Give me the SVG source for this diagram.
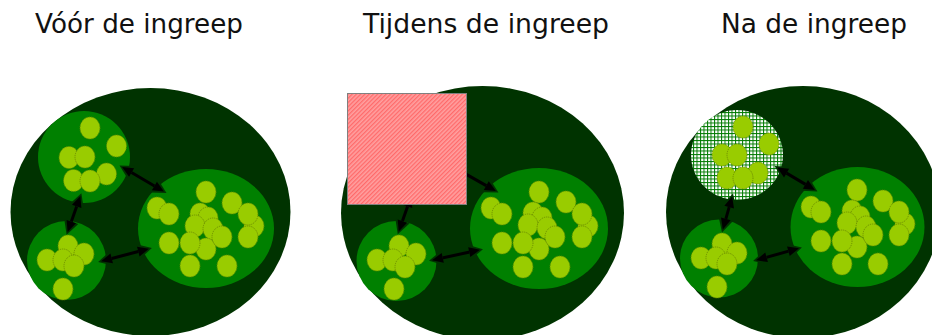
<svg xmlns="http://www.w3.org/2000/svg" width="932" height="335" viewBox="0 0 932 335">
<style>
.title{font-family:"DejaVu Sans","Liberation Sans",sans-serif;font-size:26px;fill:#111}
.bg{fill:#003300}
.cell{fill:#008000}
.dot{fill:#99cc00;stroke:#6b8a00;stroke-width:1;stroke-dasharray:1 1}
.arr{stroke:#000;stroke-width:3;fill:none;marker-start:url(#head);marker-end:url(#head)}
</style>
<defs>
<marker id="head" markerUnits="userSpaceOnUse" viewBox="-3 -9 20 18" markerWidth="20" markerHeight="18" refX="3" refY="0" orient="auto-start-reverse" overflow="visible">
<path d="M0,-7.5 L14,0 L0,7.5 z" fill="#003300"/>
<path d="M0,-5 L11,0 L0,5 z" fill="#000"/>
</marker>
<pattern id="hatch" width="3" height="3" patternUnits="userSpaceOnUse" patternTransform="rotate(45)">
<rect width="3" height="3" fill="#ffa0a0"/>
<rect width="1.3" height="3" fill="#ff6a6a"/>
</pattern>
<pattern id="check" width="3.5" height="3.5" patternUnits="userSpaceOnUse">
<rect width="3.5" height="3.5" fill="#ffffff"/>
<rect width="1" height="3.5" fill="#007a00"/>
<rect width="3.5" height="1" fill="#007a00"/>
</pattern>
</defs>
<rect width="932" height="335" fill="#ffffff"/>

<g id="titles">
<text class="title" x="35" y="33" textLength="208" lengthAdjust="spacingAndGlyphs">Vóór de ingreep</text>
<text class="title" x="363" y="33" textLength="246" lengthAdjust="spacingAndGlyphs">Tijdens de ingreep</text>
<text class="title" x="721" y="33" textLength="186" lengthAdjust="spacingAndGlyphs">Na de ingreep</text>
</g>

<!-- Panel 1 -->
<g id="p1-body"><ellipse class="bg" cx="150.5" cy="212" rx="140" ry="124"/></g>
<g id="p1-topleft">
<circle class="cell" cx="84" cy="157" r="46"/>
<ellipse class="dot" cx="90" cy="128" rx="10" ry="11"/>
<ellipse class="dot" cx="116.5" cy="146" rx="10" ry="11"/>
<ellipse class="dot" cx="69" cy="157.5" rx="10" ry="11"/>
<ellipse class="dot" cx="85" cy="157" rx="10" ry="11"/>
<ellipse class="dot" cx="106.5" cy="174" rx="10" ry="11"/>
<ellipse class="dot" cx="73.5" cy="180.5" rx="10" ry="11"/>
<ellipse class="dot" cx="90" cy="181" rx="10" ry="11"/>
</g>
<g id="p1-bottomleft">
<circle class="cell" cx="66.5" cy="260.5" r="39.5"/>
<ellipse class="dot" cx="68" cy="246" rx="10" ry="11"/>
<ellipse class="dot" cx="47" cy="260" rx="10" ry="11"/>
<ellipse class="dot" cx="63" cy="260" rx="10" ry="11"/>
<ellipse class="dot" cx="84" cy="254" rx="10" ry="11"/>
<ellipse class="dot" cx="74" cy="266" rx="10" ry="11"/>
<ellipse class="dot" cx="63" cy="289" rx="10" ry="11"/>
</g>
<g id="p1-right">
<ellipse class="cell" cx="206" cy="228.5" rx="68" ry="59.5"/>
<ellipse class="dot" cx="206" cy="192" rx="10" ry="11"/>
<ellipse class="dot" cx="157" cy="208" rx="10" ry="11"/>
<ellipse class="dot" cx="169" cy="214" rx="10" ry="11"/>
<ellipse class="dot" cx="232" cy="203" rx="10" ry="11"/>
<ellipse class="dot" cx="254" cy="226" rx="10" ry="11"/>
<ellipse class="dot" cx="248" cy="214" rx="10" ry="11"/>
<ellipse class="dot" cx="200" cy="214" rx="10" ry="11"/>
<ellipse class="dot" cx="208" cy="218" rx="10" ry="11"/>
<ellipse class="dot" cx="195" cy="226" rx="10" ry="11"/>
<ellipse class="dot" cx="213" cy="229" rx="10" ry="11"/>
<ellipse class="dot" cx="248" cy="237" rx="10" ry="11"/>
<ellipse class="dot" cx="206" cy="249" rx="10" ry="11"/>
<ellipse class="dot" cx="222" cy="237" rx="10" ry="11"/>
<ellipse class="dot" cx="169" cy="243" rx="10" ry="11"/>
<ellipse class="dot" cx="190" cy="243" rx="10" ry="11"/>
<ellipse class="dot" cx="190" cy="266" rx="10" ry="11"/>
<ellipse class="dot" cx="227" cy="266" rx="10" ry="11"/>
</g>

<!-- Panel 2 -->
<g id="p2-body"><ellipse class="bg" cx="482.5" cy="213" rx="141.5" ry="127"/></g>
<g id="p2-bottomleft">
<circle class="cell" cx="396.5" cy="261" r="40"/>
<ellipse class="dot" cx="399" cy="246" rx="10" ry="11"/>
<ellipse class="dot" cx="377" cy="260" rx="10" ry="11"/>
<ellipse class="dot" cx="393" cy="260" rx="10" ry="11"/>
<ellipse class="dot" cx="416" cy="254" rx="10" ry="11"/>
<ellipse class="dot" cx="405" cy="267" rx="10" ry="11"/>
<ellipse class="dot" cx="394" cy="289" rx="10" ry="11"/>
</g>
<g id="p2-right">
<ellipse class="cell" cx="539" cy="228.5" rx="69" ry="60.5"/>
<ellipse class="dot" cx="539" cy="192" rx="10" ry="11"/>
<ellipse class="dot" cx="491" cy="208" rx="10" ry="11"/>
<ellipse class="dot" cx="502" cy="214" rx="10" ry="11"/>
<ellipse class="dot" cx="566" cy="202" rx="10" ry="11"/>
<ellipse class="dot" cx="588" cy="226" rx="10" ry="11"/>
<ellipse class="dot" cx="582" cy="214" rx="10" ry="11"/>
<ellipse class="dot" cx="533" cy="213" rx="10" ry="11"/>
<ellipse class="dot" cx="542" cy="218" rx="10" ry="11"/>
<ellipse class="dot" cx="528" cy="225" rx="10" ry="11"/>
<ellipse class="dot" cx="547" cy="228" rx="10" ry="11"/>
<ellipse class="dot" cx="582" cy="237" rx="10" ry="11"/>
<ellipse class="dot" cx="539" cy="249" rx="10" ry="11"/>
<ellipse class="dot" cx="555" cy="237" rx="10" ry="11"/>
<ellipse class="dot" cx="502" cy="243" rx="10" ry="11"/>
<ellipse class="dot" cx="523" cy="243" rx="10" ry="11"/>
<ellipse class="dot" cx="523" cy="267" rx="10" ry="11"/>
<ellipse class="dot" cx="560" cy="267" rx="10" ry="11"/>
</g>

<!-- Panel 3 -->
<g id="p3-body"><ellipse class="bg" cx="803" cy="212" rx="137" ry="126"/></g>
<g id="p3-topleft">
<ellipse cx="737" cy="155" rx="46" ry="45" fill="url(#check)"/>
<ellipse class="dot" cx="743" cy="127" rx="10" ry="11"/>
<ellipse class="dot" cx="769" cy="144" rx="10" ry="11"/>
<ellipse class="dot" cx="722" cy="155" rx="10" ry="11"/>
<ellipse class="dot" cx="737" cy="155" rx="10" ry="11"/>
<ellipse class="dot" cx="758" cy="173" rx="10" ry="11"/>
<ellipse class="dot" cx="727" cy="178" rx="10" ry="11"/>
<ellipse class="dot" cx="743" cy="178" rx="10" ry="11"/>
</g>
<g id="p3-bottomleft">
<circle class="cell" cx="719" cy="258.5" r="39"/>
<ellipse class="dot" cx="722" cy="244" rx="10" ry="11"/>
<ellipse class="dot" cx="701" cy="258" rx="10" ry="11"/>
<ellipse class="dot" cx="716" cy="258" rx="10" ry="11"/>
<ellipse class="dot" cx="737" cy="253" rx="10" ry="11"/>
<ellipse class="dot" cx="727" cy="264" rx="10" ry="11"/>
<ellipse class="dot" cx="717" cy="287" rx="10" ry="11"/>
</g>
<g id="p3-right">
<ellipse class="cell" cx="857.5" cy="227" rx="67" ry="60"/>
<ellipse class="dot" cx="857" cy="190" rx="10" ry="11"/>
<ellipse class="dot" cx="811" cy="207" rx="10" ry="11"/>
<ellipse class="dot" cx="821" cy="212" rx="10" ry="11"/>
<ellipse class="dot" cx="883" cy="201" rx="10" ry="11"/>
<ellipse class="dot" cx="905" cy="224" rx="10" ry="11"/>
<ellipse class="dot" cx="899" cy="212" rx="10" ry="11"/>
<ellipse class="dot" cx="852" cy="211" rx="10" ry="11"/>
<ellipse class="dot" cx="860" cy="217" rx="10" ry="11"/>
<ellipse class="dot" cx="847" cy="223" rx="10" ry="11"/>
<ellipse class="dot" cx="866" cy="227" rx="10" ry="11"/>
<ellipse class="dot" cx="899" cy="235" rx="10" ry="11"/>
<ellipse class="dot" cx="857" cy="247" rx="10" ry="11"/>
<ellipse class="dot" cx="873" cy="235" rx="10" ry="11"/>
<ellipse class="dot" cx="821" cy="241" rx="10" ry="11"/>
<ellipse class="dot" cx="842" cy="241" rx="10" ry="11"/>
<ellipse class="dot" cx="842" cy="264" rx="10" ry="11"/>
<ellipse class="dot" cx="878" cy="264" rx="10" ry="11"/>
</g>

<g id="connectors">
<line class="arr" x1="129" y1="171" x2="157" y2="187.5"/>
<line class="arr" x1="77.7" y1="203.6" x2="70.3" y2="224.4"/>
<line class="arr" x1="108.8" y1="259.2" x2="141.2" y2="250.8"/>
<line class="arr" x1="461.1" y1="171.4" x2="488.9" y2="187.1"/>
<line class="arr" x1="408.6" y1="203.6" x2="401.4" y2="223.9"/>
<line class="arr" x1="439.8" y1="258.5" x2="472.2" y2="251.5"/>
<line class="arr" x1="784" y1="171.6" x2="808" y2="185.9"/>
<line class="arr" x1="730" y1="204.2" x2="725" y2="221.8"/>
<line class="arr" x1="763.7" y1="258.1" x2="791.3" y2="250.4"/>
</g>

<g id="p2-block">
<rect x="347.5" y="93.5" width="119" height="111" fill="url(#hatch)" stroke="#808080" stroke-width="1"/>
</g>
</svg>
